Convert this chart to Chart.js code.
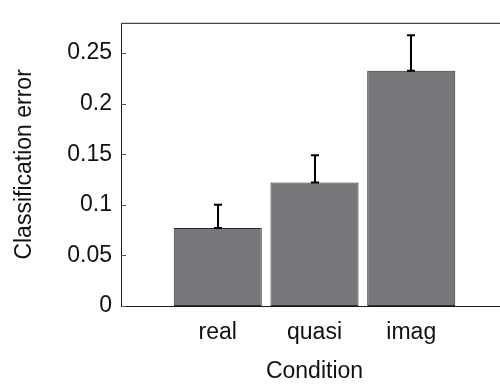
<!DOCTYPE html>
<html>
<head>
<meta charset="utf-8">
<script src="https://cdn.jsdelivr.net/npm/chart.js@4/dist/chart.umd.min.js"></script>
<style>
  html, body { margin: 0; padding: 0; background: #fff; overflow: hidden; }
  #wrap { width: 500px; height: 384px; overflow: hidden; position: relative; }
  canvas { display: block; }
</style>
</head>
<body>
<div id="wrap"><canvas id="c" width="508" height="384"></canvas></div>
<script>
// Mean classification error per condition, with upper error bars
const categories = ['real', 'quasi', 'imag'];
const positions = [1, 2, 3];
const errorMean = [0.077, 0.122, 0.2326];
const errorUpper = [0.023, 0.027, 0.035];
const yTicks = [0, 0.05, 0.1, 0.15, 0.2, 0.25];
const yMax = 0.28;
const xMin = 0, xMax = 4;

const FONT = 'Liberation Sans, Arial, sans-serif';
const barColor = '#77787c';
const edgeColor = '#2b2b2b';

// Axis box (left, top, bottom) with inward tick marks
const frame = {
  id: 'frame',
  afterDatasetsDraw(chart) {
    const { ctx, chartArea: a, scales } = chart;
    ctx.save();
    ctx.strokeStyle = '#1a1a1a';
    ctx.lineWidth = 1;
    ctx.beginPath();
    ctx.moveTo(a.right, a.top + 0.5);
    ctx.lineTo(a.left + 0.5, a.top + 0.5);
    ctx.lineTo(a.left + 0.5, a.bottom + 0.5);
    ctx.lineTo(a.right, a.bottom + 0.5);
    ctx.stroke();
    ctx.strokeStyle = '#555';
    yTicks.forEach(v => {
      const y = Math.round(scales.y.getPixelForValue(v)) + 0.5;
      ctx.beginPath();
      ctx.moveTo(a.left, y);
      ctx.lineTo(a.left + 5, y);
      ctx.stroke();
    });
    ctx.restore();
  }
};

// Error bars drawn from each bar top up to mean + upper error
const errorBars = {
  id: 'errorBars',
  afterDatasetsDraw(chart) {
    const { ctx, scales } = chart;
    const meta = chart.getDatasetMeta(0);
    ctx.save();
    ctx.strokeStyle = '#000';
    ctx.lineWidth = 2;
    meta.data.forEach((bar, i) => {
      const x = Math.round(bar.x);
      const y0 = scales.y.getPixelForValue(errorMean[i]);
      const y1 = scales.y.getPixelForValue(errorMean[i] + errorUpper[i]);
      const half = 4;
      ctx.beginPath();
      ctx.moveTo(x, y0);
      ctx.lineTo(x, y1);
      ctx.moveTo(x - half, y1);
      ctx.lineTo(x + half, y1);
      ctx.moveTo(x - half, y0);
      ctx.lineTo(x + half, y0);
      ctx.stroke();
    });
    ctx.restore();
  }
};

new Chart(document.getElementById('c'), {
  type: 'bar',
  data: {
    datasets: [{
      data: positions.map((x, i) => ({ x: x, y: errorMean[i] })),
      backgroundColor: barColor,
      borderColor: edgeColor,
      borderWidth: 1,
      borderSkipped: false,
      categoryPercentage: 1,
      barPercentage: 0.91
    }]
  },
  options: {
    responsive: false,
    animation: false,
    events: [],
    layout: { padding: { top: 12, right: 0, bottom: 0, left: 0 } },
    plugins: { legend: { display: false }, tooltip: { enabled: false } },
    scales: {
      x: {
        type: 'linear',
        offset: false,
        min: xMin,
        max: xMax,
        afterBuildTicks(scale) { scale.ticks = positions.map(v => ({ value: v })); },
        afterFit(scale) { scale.height = 78; },
        grid: { display: false, drawTicks: false, offset: false },
        border: { display: false },
        ticks: {
          padding: 13,
          color: '#111',
          font: { family: FONT, size: 23 },
          callback: v => categories[positions.indexOf(v)] ?? ''
        },
        title: {
          display: true,
          text: 'Condition',
          color: '#111',
          font: { family: FONT, size: 23, lineHeight: 1.1 },
          padding: { top: 0, bottom: 0 }
        }
      },
      y: {
        min: 0,
        max: yMax,
        afterBuildTicks(scale) { scale.ticks = yTicks.map(v => ({ value: v })); },
        afterFit(scale) { scale.width = 121; },
        grid: { display: false, drawTicks: false },
        border: { display: false },
        ticks: {
          padding: 9,
          color: '#111',
          font: { family: FONT, size: 23 },
          callback: v => String(Math.round(v * 100) / 100)
        },
        title: {
          display: true,
          text: 'Classification error',
          color: '#111',
          font: { family: FONT, size: 23, lineHeight: 1.2 },
          padding: { top: 11, bottom: 0 }
        }
      }
    }
  },
  plugins: [frame, errorBars]
});
</script>
</body>
</html>
